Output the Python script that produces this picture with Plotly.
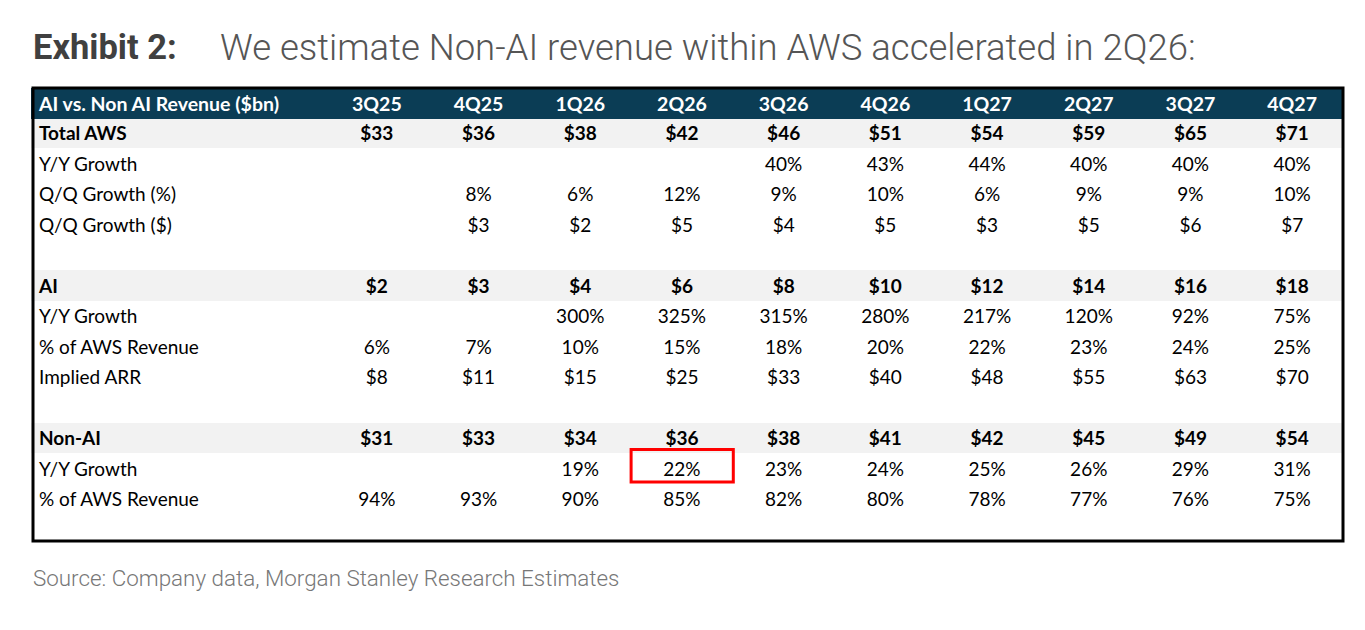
import plotly.graph_objects as go

quarters = ["3Q25", "4Q25", "1Q26", "2Q26", "3Q26", "4Q26", "1Q27", "2Q27", "3Q27", "4Q27"]
row_labels = ["Total AWS", "Y/Y Growth", "Q/Q Growth (%)", "Q/Q Growth ($)", "",
              "AI", "Y/Y Growth", "% of AWS Revenue", "Implied ARR", "",
              "Non-AI", "Y/Y Growth", "% of AWS Revenue"]
bold_rows = [0, 5, 10]

total_aws = [33, 36, 38, 42, 46, 51, 54, 59, 65, 71]
total_yy = [None, None, None, None, 40, 43, 44, 40, 40, 40]
total_qq_pct = [None, 8, 6, 12, 9, 10, 6, 9, 9, 10]
total_qq_usd = [None, 3, 2, 5, 4, 5, 3, 5, 6, 7]
ai_rev = [2, 3, 4, 6, 8, 10, 12, 14, 16, 18]
ai_yy = [None, None, 300, 325, 315, 280, 217, 120, 92, 75]
ai_share = [6, 7, 10, 15, 18, 20, 22, 23, 24, 25]
ai_arr = [8, 11, 15, 25, 33, 40, 48, 55, 63, 70]
nonai_rev = [31, 33, 34, 36, 38, 41, 42, 45, 49, 54]
nonai_yy = [None, None, 19, 22, 23, 24, 25, 26, 29, 31]
nonai_share = [94, 93, 90, 85, 82, 80, 78, 77, 76, 75]

highlight = ("2Q26", 11)  # column, row of the boxed cell

# the page body has an 8px margin, so the figure is drawn 8px in
OFF = 8
W, H = 1365 - 2 * OFF, 630 - 2 * OFF
left, right, top, bottom = 33, 1343, 88, 541
head_h, row_h = 30, 30.5
label_w = 293

navy = "#0B3D55"
grey = "#F2F2F2"
font = "Lato"
clear = "rgba(0,0,0,0)"


def px(x):
    return (x - OFF) / W


def py(y):
    return 1 - (y - OFF) / H


def usd(v):
    return "" if v is None else "$%d" % v


def pct(v):
    return "" if v is None else "%d%%" % v


rows = [
    [usd(v) for v in total_aws],
    [pct(v) for v in total_yy],
    [pct(v) for v in total_qq_pct],
    [usd(v) for v in total_qq_usd],
    [""] * 10,
    [usd(v) for v in ai_rev],
    [pct(v) for v in ai_yy],
    [pct(v) for v in ai_share],
    [usd(v) for v in ai_arr],
    [""] * 10,
    [usd(v) for v in nonai_rev],
    [pct(v) for v in nonai_yy],
    [pct(v) for v in nonai_share],
]

# plain rows go in the base table, bold rows in a second table laid over it
plain_rows = [r if i not in bold_rows else [""] * 10 for i, r in enumerate(rows)]
bold_only = [r if i in bold_rows else [""] * 10 for i, r in enumerate(rows)]
plain_labels = ["" if i in bold_rows else l for i, l in enumerate(row_labels)]
bold_labels = [l if i in bold_rows else "" for i, l in enumerate(row_labels)]

row_fill = [grey if i in bold_rows else "white" for i in range(len(row_labels))]
col_w = (right - left - label_w) / len(quarters)
ncol = len(quarters) + 1
aligns = ["left"] + ["center"] * len(quarters)
domain = dict(x=[px(left - 2), px(right)], y=[py(bottom), py(top)])
widths = [label_w + 2] + [col_w] * len(quarters)
header_vals = ["AI vs. Non AI Revenue ($bn)"] + quarters

fig = go.Figure()
fig.add_trace(go.Table(
    domain=domain,
    columnwidth=widths,
    header=dict(
        values=header_vals,
        fill_color=navy,
        line=dict(color=navy, width=1),
        font=dict(family=font, size=19.5, color="white", weight="bold"),
        align=aligns,
        height=head_h,
    ),
    cells=dict(
        values=[plain_labels] + [[r[j] for r in plain_rows] for j in range(len(quarters))],
        fill_color=[row_fill] * ncol,
        line=dict(color=[row_fill] * ncol, width=1),
        font=dict(family=font, size=19, color="black"),
        align=aligns,
        height=row_h,
    ),
))
fig.add_trace(go.Table(
    domain=domain,
    columnwidth=widths,
    header=dict(
        values=header_vals,
        fill_color=clear,
        line=dict(color=clear, width=0),
        font=dict(family=font, size=19.5, color=clear),
        align=aligns,
        height=head_h,
    ),
    cells=dict(
        values=[bold_labels] + [[r[j] for r in bold_only] for j in range(len(quarters))],
        fill_color=clear,
        line=dict(color=clear, width=0),
        font=dict(family=font, size=19, color="black", weight="bold"),
        align=aligns,
        height=row_h,
    ),
))

# outer frame of the table
fig.add_shape(type="rect", xref="paper", yref="paper",
              x0=px(left), x1=px(right), y0=py(bottom), y1=py(top),
              line=dict(color="black", width=3))

# red box around the highlighted cell
ci = quarters.index(highlight[0])
ri = highlight[1]
bx0 = left + label_w + ci * col_w
by0 = top + head_h + ri * row_h
fig.add_shape(type="rect", xref="paper", yref="paper",
              x0=px(bx0), x1=px(bx0 + col_w + 0.5),
              y0=py(by0 + row_h - 2), y1=py(by0 - 4),
              line=dict(color="#FF0000", width=3))

fig.add_annotation(x=px(31), y=py(47), xref="paper", yref="paper",
                   xanchor="left", yanchor="middle", showarrow=False,
                   text="<b>Exhibit 2:</b>",
                   font=dict(family="Roboto", size=34.5, color="#404040"))
fig.add_annotation(x=px(218), y=py(47), xref="paper", yref="paper",
                   xanchor="left", yanchor="middle", showarrow=False,
                   text="We estimate Non-AI revenue within AWS accelerated in 2Q26:",
                   font=dict(family="Roboto", size=36.5, color="#555555", weight=300))
fig.add_annotation(x=px(31), y=py(578), xref="paper", yref="paper",
                   xanchor="left", yanchor="middle", showarrow=False,
                   text="Source: Company data, Morgan Stanley Research Estimates",
                   font=dict(family="Roboto", size=22.4, color="#777777", weight=300))

fig.update_layout(width=W, height=H, margin=dict(l=0, r=0, t=0, b=0),
                  paper_bgcolor="white", plot_bgcolor="white")

fig.write_html("out.html")
